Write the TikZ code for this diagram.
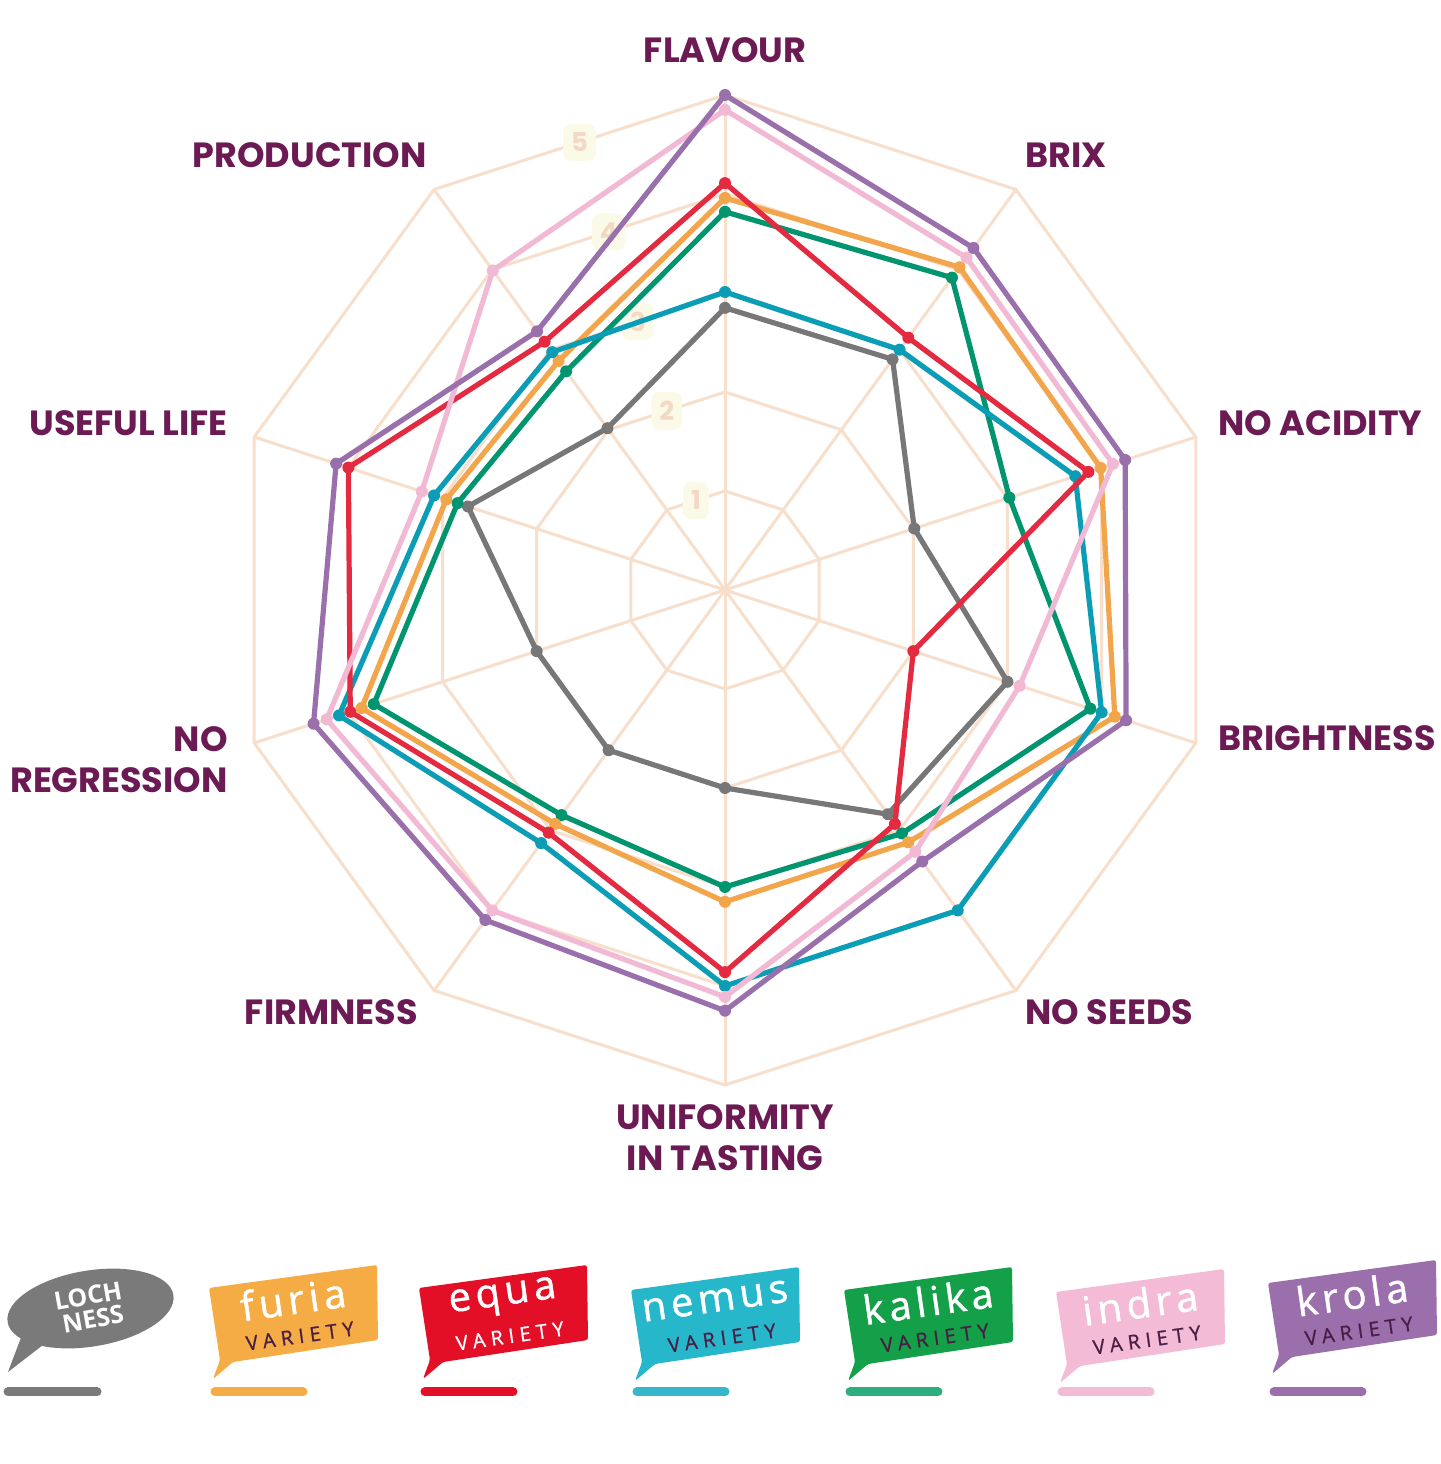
\documentclass[tikz,border=0pt]{standalone}
\usepackage{fontspec}
\setmainfont{Poppins}
\newfontfamily\osfont{Open Sans}
\newfontfamily\namefont{Open Sans}[LetterSpace=12, FakeBold=1.2]
\newfontfamily\varfont{Open Sans}[LetterSpace=28, FakeBold=0.8]
\definecolor{cGrid}{HTML}{F7DFCC}
\definecolor{cLabel}{HTML}{6B1A53}
\definecolor{cScaleTxt}{HTML}{F3D8C4}
\definecolor{cScaleBg}{HTML}{FBF9E8}
\definecolor{cGray}{HTML}{777777}
\definecolor{cOrange}{HTML}{F2A54A}
\definecolor{cGreen}{HTML}{00946F}
\definecolor{cTeal}{HTML}{0A9DB5}
\definecolor{cRed}{HTML}{E32A40}
\definecolor{cPink}{HTML}{F2B9D5}
\definecolor{cPurple}{HTML}{9A70AC}
\definecolor{fGray}{HTML}{7A7A7A}
\definecolor{fOrange}{HTML}{F5AC45}
\definecolor{fRed}{HTML}{E20F27}
\definecolor{fTeal}{HTML}{27B7CB}
\definecolor{fGreen}{HTML}{13A049}
\definecolor{fPink}{HTML}{F3BBD6}
\definecolor{fPurple}{HTML}{9A6FAC}
\definecolor{bGreen}{HTML}{2DAE7E}
\definecolor{bTeal}{HTML}{35B6CA}
\definecolor{cVar}{HTML}{4A1D45}
\tikzset{
  gridline/.style={draw=cGrid, line width=1.5pt},
  serie/.style={draw=#1, line width=2.6pt, line join=round},
  axlabel/.style={font=\bfseries\fontsize{17.5}{20.5}\selectfont, text=cLabel, inner sep=0pt},
  scalelab/.style={font=\bfseries\fontsize{13}{13}\selectfont, text=cScaleTxt, fill=cScaleBg, rounded corners=4pt, inner xsep=4pt, inner ysep=4.5pt},
  flagname/.style={font=\namefont\fontsize{20}{20}\selectfont, text=white, rotate=8, inner sep=0pt},
  flagvar/.style={font=\varfont\fontsize{10}{10}\selectfont, text=#1, rotate=8, inner sep=0pt},
  legbar/.style={line width=4.5pt, line cap=round, draw=#1},
}
\newcommand\radarseries[2]{%
  \foreach \v [count=\i from 0] in {#2} {\coordinate (q\i) at ({90-36*\i}:\v);}
  \draw[serie=#1] (q0)--(q1)--(q2)--(q3)--(q4)--(q5)--(q6)--(q7)--(q8)--(q9)--cycle;
  \foreach \i in {0,...,9} {\fill[#1] (q\i) circle (3pt);}
}
\newcommand\legflag[7]{% id, x, y, fill, name, variety colour, bar colour
  \begin{scope}[shift={(#2,#3)}]
    \fill[#4, rounded corners=1.2pt] (0,0) -- (168,23) -- (169,-52) -- (24,-74) -- (4,-91) -- (11,-72) -- cycle;
    \node[flagname] (#1n) at (84,-11) {#5};
    \node[flagvar=#6] (#1v) at (91,-48) {VARIETY};
  \end{scope}
  \draw[legbar=#7] (#2+6,72) -- (#2+94,72);
}
\begin{document}
\begin{tikzpicture}[x=0.5pt,y=0.5pt]
\useasboundingbox (0,0) rectangle (1441,1464);
\fill[white] (0,0) rectangle (1441,1464);
\begin{scope}[shift={(725,874)}, x=49.5pt, y=49.5pt]
  % grid
  \foreach \r in {1,...,5} {
    \draw[gridline, line join=round] (90:\r) \foreach \k in {1,...,9} { -- ({90-36*\k}:\r) } -- cycle;
  }
  \foreach \k in {0,...,9} { \draw[gridline] (0,0) -- ({90-36*\k}:5); }
  % scale labels
  \foreach \r in {1,...,5} { \node[scalelab] (s\r) at (108:{\r*0.951}) {\r}; }
  % series: FLAVOUR, BRIX, NO ACIDITY, BRIGHTNESS, NO SEEDS, UNIFORMITY, FIRMNESS, NO REGRESSION, USEFUL LIFE, PRODUCTION
  \radarseries{cGray}{2.85,2.88,2.01,3.0,2.80,2.0,2.0,2.0,2.73,2.02}
  \radarseries{cGreen}{3.82,3.90,3.02,3.88,3.04,3.0,2.81,3.73,2.84,2.73}
  \radarseries{cOrange}{3.96,4.03,3.99,4.14,3.15,3.15,2.92,3.86,2.96,2.86}
  \radarseries{cTeal}{3.01,3.0,3.72,4.0,4.0,4.0,3.16,4.10,3.09,2.97}
  \radarseries{cRed}{4.11,3.15,3.86,2.0,2.92,3.86,3.03,3.98,4.0,3.10}
  \radarseries{cPink}{4.85,4.15,4.12,3.13,3.27,4.11,4.0,4.23,3.22,3.99}
  \radarseries{cPurple}{5.0,4.27,4.25,4.26,3.39,4.25,4.12,4.37,4.13,3.23}
\end{scope}
% axis labels
\node[axlabel] (lFlav) at (725,1414) {FLAVOUR};
\node[axlabel, anchor=west] (lBrix) at (1025,1309) {BRIX};
\node[axlabel, anchor=west] (lAcid) at (1218,1041) {NO ACIDITY};
\node[axlabel, anchor=west] (lBright) at (1218,726) {BRIGHTNESS};
\node[axlabel, anchor=west] (lSeeds) at (1025,452) {NO SEEDS};
\node[axlabel, align=center] (lUnif) at (725,326) {UNIFORMITY\\IN TASTING};
\node[axlabel, anchor=east] (lFirm) at (418,452) {FIRMNESS};
\node[axlabel, anchor=east, align=right] (lRegr) at (228,704) {NO\\REGRESSION};
\node[axlabel, anchor=east] (lLife) at (228,1041) {USEFUL LIFE};
\node[axlabel, anchor=east] (lProd) at (427,1309) {PRODUCTION};
% legend: loch ness
\fill[fGray] (22,129) -- (8,92) -- (43,119) -- cycle;
\fill[fGray, rotate around={9.3:(90.5,155.5)}] (90.5,155.5) ellipse [x radius=84, y radius=38];
\node[font=\osfont\bfseries\fontsize{12.5}{12}\selectfont, text=white, rotate=10, inner sep=0pt] (lochA) at (88,168) {LOCH};
\node[font=\osfont\bfseries\fontsize{12.5}{12}\selectfont, text=white, rotate=10, inner sep=0pt] (lochB) at (93,145) {NESS};
\draw[legbar=fGray] (8,72) -- (97,72);
% legend flags
\legflag{fu}{209}{176}{fOrange}{furia}{cVar}{fOrange}
\legflag{eq}{419}{176}{fRed}{equa}{white}{fRed}
\legflag{ne}{631}{174}{fTeal}{nemus}{cVar}{bTeal}
\legflag{ka}{844}{174}{fGreen}{kalika}{cVar}{bGreen}
\legflag{in}{1056}{172}{fPink}{indra}{cVar}{fPink}
\legflag{kr}{1268}{181}{fPurple}{krola}{cVar}{fPurple}
\end{tikzpicture}
\end{document}
